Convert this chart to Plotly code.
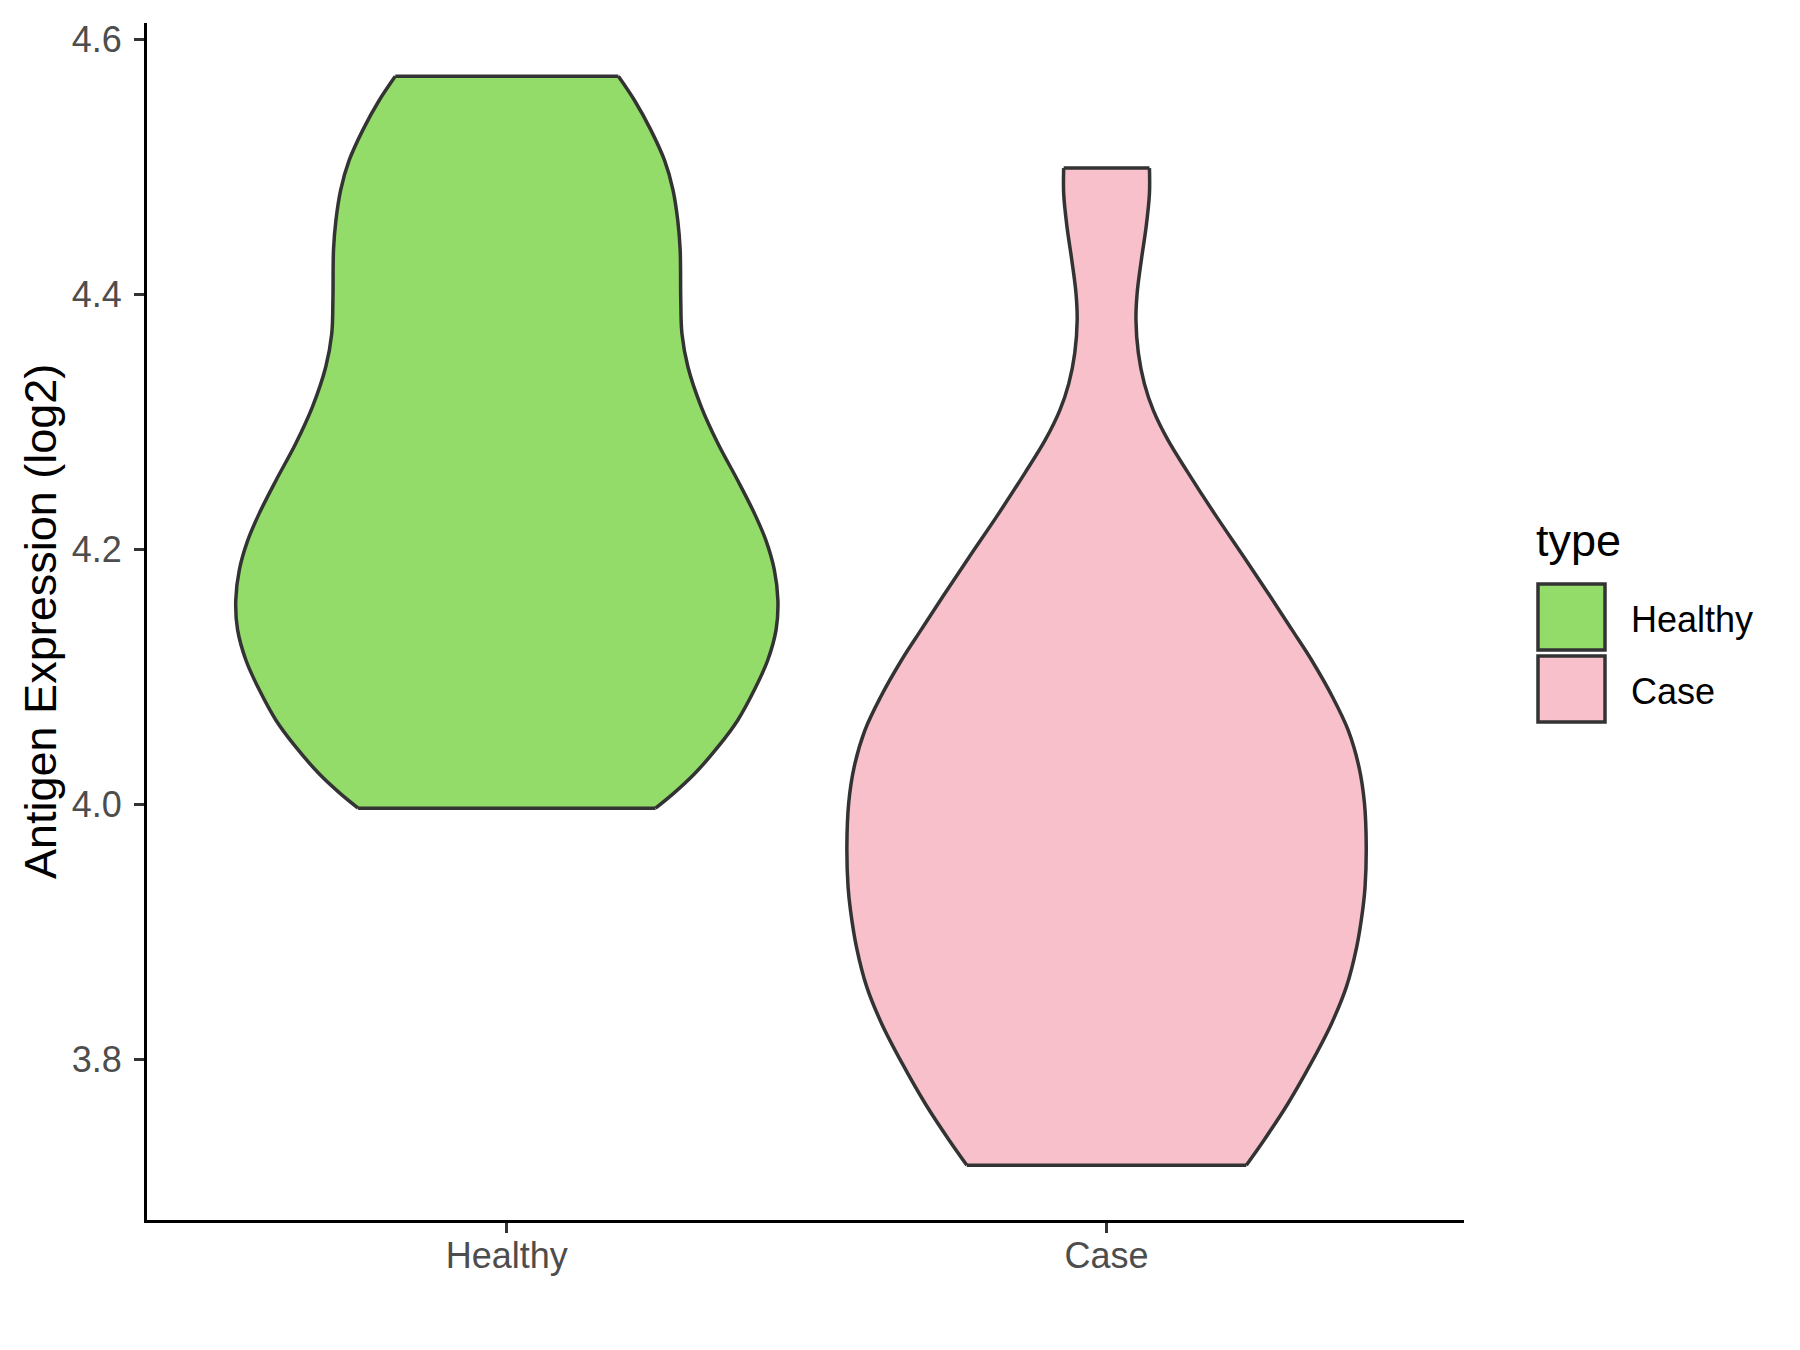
import plotly.graph_objects as go

# Categories and colours
categories = ["Healthy", "Case"]
colors = ["#93DC6A", "#F7C0CA"]

# Violin density profiles: value (log2) and half-width (category units)
healthy_y = [3.997, 4.009, 4.024, 4.045, 4.066, 4.090, 4.113, 4.137, 4.160, 4.184, 4.207,
             4.228, 4.254, 4.283, 4.312, 4.343, 4.369, 4.396, 4.435, 4.458, 4.482, 4.505,
             4.529, 4.552, 4.571]
healthy_w = [0.248, 0.279, 0.313, 0.352, 0.385, 0.413, 0.435, 0.449, 0.452, 0.446, 0.432,
             0.413, 0.385, 0.352, 0.324, 0.302, 0.292, 0.290, 0.289, 0.285, 0.277, 0.263,
             0.240, 0.213, 0.186]

case_y = [3.717, 3.737, 3.765, 3.797, 3.828, 3.857, 3.888, 3.917, 3.935, 3.967, 4.001,
          4.029, 4.058, 4.084, 4.113, 4.137, 4.163, 4.194, 4.228, 4.260, 4.286, 4.309,
          4.330, 4.354, 4.380, 4.401, 4.427, 4.453, 4.479, 4.499]
case_w = [0.233, 0.263, 0.302, 0.341, 0.375, 0.400, 0.417, 0.427, 0.431, 0.433, 0.430,
          0.421, 0.403, 0.377, 0.342, 0.309, 0.273, 0.229, 0.180, 0.136, 0.102, 0.078,
          0.063, 0.053, 0.049, 0.051, 0.058, 0.066, 0.0715, 0.0715]

y_ticks = [3.8, 4.0, 4.2, 4.4, 4.6]
y_title = "Antigen Expression (log2)"
legend_title = "type"

profiles = [(healthy_y, healthy_w), (case_y, case_w)]

FONT = "Liberation Sans, Arial, sans-serif"
OUTLINE = "#333333"
LW = 3.5

fig = go.Figure()
for i, (ys, ws) in enumerate(profiles):
    c = i + 1
    # left outline
    fig.add_trace(go.Scatter(
        x=[c - w for w in ws], y=ys, mode="lines",
        line=dict(color=OUTLINE, width=LW, shape="spline", smoothing=1.0),
        showlegend=False, hoverinfo="skip"))
    # right outline, filled to the left outline
    fig.add_trace(go.Scatter(
        x=[c + w for w in ws], y=ys, mode="lines", fill="tonextx", fillcolor=colors[i],
        line=dict(color=OUTLINE, width=LW, shape="spline", smoothing=1.0),
        name=categories[i], showlegend=False, hoverinfo="skip"))
    # flat ends
    fig.add_trace(go.Scatter(
        x=[c - ws[0], c + ws[0], None, c - ws[-1], c + ws[-1]],
        y=[ys[0], ys[0], None, ys[-1], ys[-1]], mode="lines",
        line=dict(color=OUTLINE, width=LW), showlegend=False, hoverinfo="skip"))

W, H = 1800, 1350
OFF = 8  # page body margin offset
ml, mr, mt, mb = 147 - OFF, 336 + OFF, 23 - OFF, 130 + OFF
pw, ph = W - ml - mr, H - mt - mb

def px(x):
    return (x - OFF - ml) / pw

def py(y):
    return (H - mb - (y - OFF)) / ph

shapes = []
annotations = []
# y-axis title
annotations.append(dict(text=y_title, x=px(40), y=py(622), xref="paper", yref="paper",
                        xanchor="center", yanchor="middle", textangle=-90, showarrow=False,
                        font=dict(family=FONT, size=45, color="black")))
# custom legend
annotations.append(dict(text=legend_title, x=px(1534), y=py(540), xref="paper", yref="paper",
                        xanchor="left", yanchor="middle", showarrow=False,
                        font=dict(family=FONT, size=45, color="black")))
key_tops = [584, 656]
for i, cat in enumerate(categories):
    t = key_tops[i]
    shapes.append(dict(type="rect", xref="paper", yref="paper",
                       x0=px(1538), x1=px(1605), y0=py(t), y1=py(t + 66),
                       fillcolor=colors[i], line=dict(color=OUTLINE, width=LW)))
    annotations.append(dict(text=cat, x=px(1629), y=py(t + 35), xref="paper", yref="paper",
                            xanchor="left", yanchor="middle", showarrow=False,
                            font=dict(family=FONT, size=36, color="black")))

fig.update_layout(
    width=W, height=H,
    margin=dict(l=ml, r=mr, t=mt, b=mb),
    plot_bgcolor="white", paper_bgcolor="white",
    showlegend=False,
    font=dict(family=FONT),
    shapes=shapes, annotations=annotations,
    xaxis=dict(range=[0.4, 2.596], tickvals=[1, 2], ticktext=categories, automargin=False,
               showgrid=False, zeroline=False, showline=True, linecolor="black", linewidth=3.2,
               ticks="outside", ticklen=10, tickwidth=2.5, tickcolor=OUTLINE,
               ticklabelstandoff=-8,
               tickfont=dict(family=FONT, size=36, color="#4D4D4D")),
    yaxis=dict(range=[3.674, 4.6128], tickvals=y_ticks, tickformat=".1f", automargin=False,
               showgrid=False, zeroline=False, showline=True, linecolor="black", linewidth=3.2,
               ticks="outside", ticklen=10, tickwidth=2.5, tickcolor=OUTLINE,
               ticklabelstandoff=5,
               tickfont=dict(family=FONT, size=36, color="#4D4D4D")),
)

fig.write_html("out.html")
